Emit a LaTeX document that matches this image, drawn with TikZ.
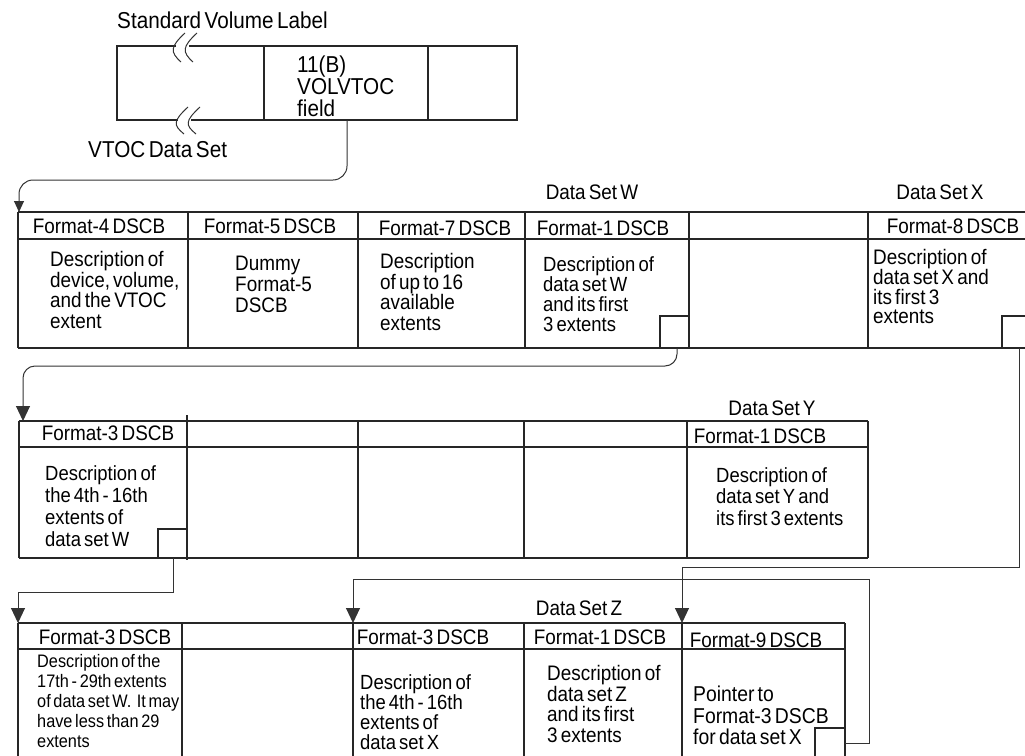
\documentclass[tikz,border=0pt]{standalone}
\usepackage{fontspec}
\setmainfont{Liberation Sans}[WordSpace=0.6, FakeStretch=0.9]
\usetikzlibrary{arrows.meta}
\begin{document}
\begin{tikzpicture}[x=1pt,y=-1pt,
  grid/.style={line width=1.1pt, draw=black!85},
  conn/.style={line width=1pt, draw=black!80},
  tipbig/.style={-{Triangle[width=14pt,length=15pt]}},
  tipsmall/.style={-{Triangle[width=10pt,length=11pt]}},
  lbl/.style={inner sep=0pt, anchor=base, font=\fontsize{21}{23}\selectfont},
  toplbl/.style={inner sep=0pt, anchor=base west, font=\fontsize{23}{24}\selectfont},
  desc/.style={inner sep=0pt, anchor=north west, align=left, font=\fontsize{21}{20.7}\selectfont},
  descs/.style={inner sep=0pt, anchor=north west, align=left, font=\fontsize{18.1}{20}\selectfont}
]
\useasboundingbox (0,0) rectangle (1025,755);
\clip (0,0) rectangle (1025,755);

% ---------- top box (Standard Volume Label) ----------
\draw[grid] (176,46) -- (117,46) -- (117,120) -- (178,120);
\draw[grid] (191,120) -- (517,120) -- (517,46) -- (189,46);
\draw[grid] (264,46) -- (264,120) (428,46) -- (428,120);
\draw[conn] (185,33) .. controls (170,47) and (170,52) .. (181,62);
\draw[conn] (197,33) .. controls (182,47) and (182,52) .. (193,62);
\draw[conn] (188,107) .. controls (173,121) and (173,125) .. (184,134);
\draw[conn] (200,107) .. controls (185,121) and (185,125) .. (196,134);
\node[toplbl] (svl) at (117,28) {Standard Volume Label};
\node[toplbl] (vtocds) at (88,157) {VTOC Data Set};
\node[inner sep=0pt, anchor=north west, align=left, font=\fontsize{23}{22}\selectfont] (volvtoc) at (297,56) {11(B)\\VOLVTOC\\field};
\coordinate (fieldout) at (347,120);

% ---------- row 1 ----------
\draw[grid] (18,212) -- (1030,212) (18,239) -- (1030,239) (18,348) -- (1030,348);
\draw[grid] (18,212) -- (18,348);
\foreach \x in {188,358,525,689,868} \draw[grid] (\x,212) -- (\x,348);
\node[lbl] (dsw) at (592,199) {Data Set W};
\node[lbl] (dsx) at (940,199) {Data Set X};
\node[lbl] (h14) at (99,233) {Format-4 DSCB};
\node[lbl] (h15) at (270,233) {Format-5 DSCB};
\node[lbl] (h17) at (445,235) {Format-7 DSCB};
\node[lbl] (h11) at (603,235) {Format-1 DSCB};
\node[lbl] (h18) at (953,233) {Format-8 DSCB};
\node[desc] (d14) at (50,251) {Description of\\device, volume,\\and the VTOC\\extent};
\node[desc] (d15) at (235,256) {Dummy\\Format-5\\DSCB};
\node[desc] (d17) at (380,253) {Description\\of up to 16\\available\\extents};
\node[desc, font=\fontsize{20.5}{20}\selectfont] (d11) at (543,256) {Description of\\data set W\\and its first\\3 extents};
\node[desc, font=\fontsize{21}{19.8}\selectfont] (d18) at (873,249) {Description of\\data set X and\\its first 3\\extents};
\draw[grid] (660,348) |- (689,316);
\draw[grid] (1002,348) |- (1030,316);
\coordinate (wout) at (677,348);
\coordinate (xout) at (1019,348);
\coordinate (r1in) at (19,212);

% ---------- row 2 ----------
\draw[grid] (19,421) -- (868,421) (19,447) -- (868,447) (19,558) -- (868,558);
\draw[grid] (19,421) -- (19,558) (868,421) -- (868,558);
\draw[grid] (187,415) -- (187,560);
\foreach \x in {358,524,687} \draw[grid] (\x,421) -- (\x,558);
\node[lbl] (dsy) at (772,415) {Data Set Y};
\node[lbl] (h23) at (108,440) {Format-3 DSCB};
\node[lbl] (h21) at (760,443) {Format-1 DSCB};
\node[desc, font=\fontsize{20.5}{22}\selectfont] (d23) at (45,465) {Description of\\the 4th - 16th\\extents of\\data set W};
\node[desc, font=\fontsize{20.5}{21.5}\selectfont] (d21) at (716,467) {Description of\\data set Y and\\its first 3 extents};
\draw[grid] (158,558) |- (187,529);
\coordinate (r2in) at (23,421);
\coordinate (w3out) at (173,558);

% ---------- row 3 ----------
\draw[grid] (18,623) -- (845,623) (18,649) -- (845,649) (18,770) -- (845,770);
\draw[grid] (18,623) -- (18,770) (845,623) -- (845,770);
\foreach \x in {182,353,524,682} \draw[grid] (\x,623) -- (\x,770);
\node[lbl] (dsz) at (579,615) {Data Set Z};
\node[lbl] (h33a) at (105,644) {Format-3 DSCB};
\node[lbl] (h33b) at (423,644) {Format-3 DSCB};
\node[lbl] (h31) at (600,644) {Format-1 DSCB};
\node[lbl] (h39) at (756,647) {Format-9 DSCB};
\node[descs] (d33a) at (37,654) {Description of the\\17th - 29th extents\\of data set W.\ \ It may\\have less than 29\\extents};
\node[desc, font=\fontsize{20.5}{20}\selectfont] (d33b) at (360,674) {Description of\\the 4th - 16th\\extents of\\data set X};
\node[desc] (d31) at (547,665) {Description of\\data set Z\\and its first\\3 extents};
\node[desc, font=\fontsize{21.5}{21.5}\selectfont] (d39) at (693,686) {Pointer to\\Format-3 DSCB\\for data set X};
\draw[grid] (815,770) |- (845,728);
\coordinate (zout) at (845,743);
\coordinate (r3in) at (18,623);
\coordinate (x3in) at (353,623);
\coordinate (z9in) at (682,623);

% ---------- connectors ----------
\draw[conn, tipsmall, rounded corners=14pt] (fieldout) -- (347,180) -- (19,180) -- (r1in);
\draw[conn, tipbig, rounded corners=12pt] (wout) -- (677,366) -- (23,366) -- (r2in);
\draw[conn, tipbig] (w3out) -- (173,592) -- (18,592) -- (r3in);
\draw[conn, tipbig] (xout) -- (1019,567) -- (682,567) -- (z9in);
\draw[conn, tipbig] (zout) -- (869,743) -- (869,579) -- (353,579) -- (x3in);
\end{tikzpicture}
\end{document}
